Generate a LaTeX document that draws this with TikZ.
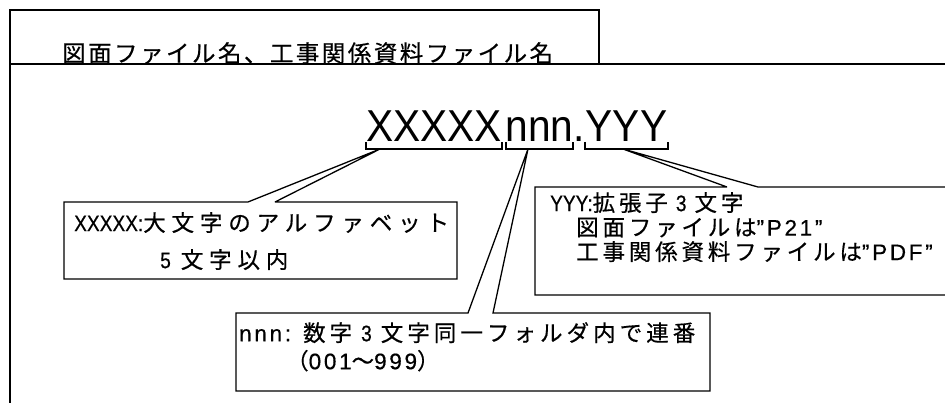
\documentclass[tikz,border=0pt]{standalone}
\usepackage{fontspec}
\setmainfont{Noto Sans CJK JP}[FakeBold=0.5]
\newfontfamily\latfont[FakeStretch=0.85,FakeBold=0.5]{Liberation Sans}
\newfontfamily\latwfont[LetterSpace=12,FakeBold=0.5]{Liberation Sans}
\newfontfamily\bigfont[FakeStretch=0.91]{Liberation Sans}
\newcommand{\lat}[1]{{\latfont #1}}
\newcommand{\latw}[1]{{\latwfont #1}}
\usetikzlibrary{positioning}

\begin{document}
\begin{tikzpicture}[
  x=1pt, y=-1pt,
  frame/.style={line width=1.6pt},
  callout/.style={draw, line width=1.3pt, line join=miter, miter limit=4},
  brace/.style={line width=1.3pt},
  bigtext/.style={inner sep=0pt, anchor=base, font=\bigfont\fontsize{44.7}{50}\selectfont},
  note/.style={inner sep=0pt, anchor=north west, align=left}
]
  \useasboundingbox (0,0) rectangle (945,403);
  \clip (0,0) rectangle (945,403);

  % frame with title tab
  \draw[frame] (10,403) -- (10,10) -- (599,10) -- (599,64);
  \draw[frame] (10,64) -- (945,64);
  \node[note, font=\fontsize{23.5}{26}\selectfont\addfontfeature{LetterSpace=10.5}] (title) at (62,42)
    {図面ファイル名、工事関係資料ファイル名};

  % file name pattern
  \node[bigtext] (xs) at (434,142) {XXXXX};
  \node[bigtext] (ns) at (539.5,142) {nnn};
  \node[bigtext] (dot) at (579,142) {.};
  \node[bigtext] (ys) at (626.5,142) {YYY};
  \foreach \a/\b in {366/502, 506/573, 585/668}
    \draw[brace] (\a,142) |- (\b,149) -- (\b,142);

  \coordinate (xtip) at (380,149);
  \coordinate (ntip) at (528,149);
  \coordinate (ytip) at (623,149);

  % callouts
  \draw[callout] (64,202) -- (248,202) -- (xtip) -- (275,202) -| (457,279) -- (64,279) -- cycle;
  \draw[callout] (236,313) -- (468,313) -- (ntip) -- (493,313) -| (710,391) -- (236,391) -- cycle;
  \draw[callout] (535,187) -- (727,187) -- (ytip) -- (758,187) -| (955,295) -- (535,295) -- cycle;

  \node[note, font=\fontsize{22.5}{37}\selectfont\addfontfeature{LetterSpace=26}] (xnote) at (74,212)
    {\lat{XXXXX:}大文字のアルファベット\\\hspace*{86pt}\lat{5}\hspace{10pt}文字以内};
  \node[note, font=\fontsize{22.5}{28}\selectfont\addfontfeature{LetterSpace=18}] (nnote) at (239,322)
    {\latw{nnn:}\hspace{12pt}数字\hspace{9pt}\lat{3}\hspace{9pt}文字同一フォルダ内で連番\\\hspace*{47pt}（\latw{001}～\latw{999}）};
  \node[note, font=\fontsize{22.5}{24.5}\selectfont\addfontfeature{LetterSpace=17}] (ynote) at (550,192)
    {\lat{YYY:}拡張子\hspace{8pt}\lat{3}\hspace{8pt}文字\\\hspace*{26pt}図面ファイルは\latw{”P21”}\\\hspace*{26pt}工事関係資料ファイルは\latw{”PDF”}};
\end{tikzpicture}
\end{document}
